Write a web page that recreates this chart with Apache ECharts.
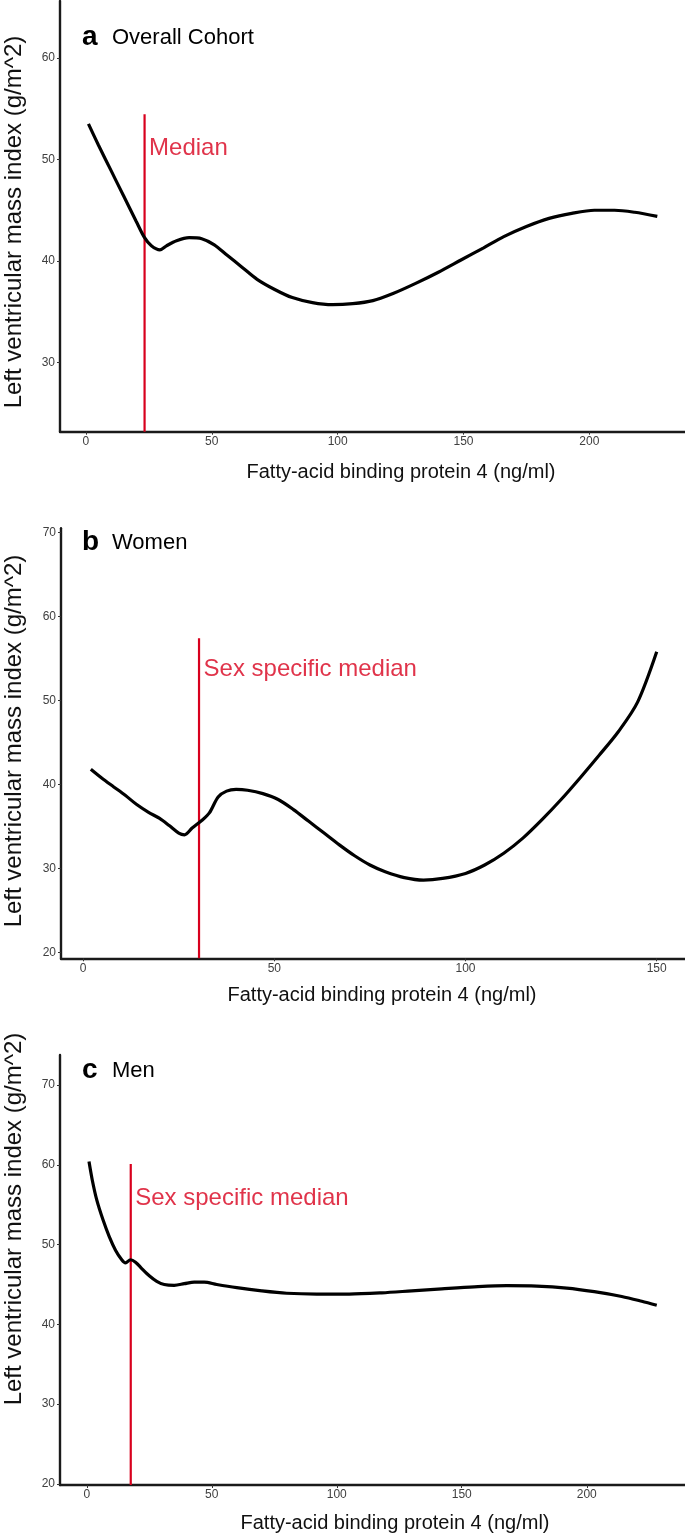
<!DOCTYPE html>
<html>
<head>
<meta charset="utf-8">
<script src="https://cdn.jsdelivr.net/npm/echarts@6.0.0/dist/echarts.min.js"></script>
<style>
  html, body { margin: 0; padding: 0; background: #fff; }
  #chart { width: 685px; height: 1538px; }
</style>
</head>
<body>
<div id="chart"></div>
<script>
// values (x = FABP4 ng/ml, y = LVMI g/m^2)
var overallX = [1, 5, 10, 15, 20, 23.3, 26, 29.4, 32, 36, 41, 46, 51, 56, 62, 68, 75, 82, 90, 98, 106, 114, 122, 131, 140, 149, 158, 166, 175, 184, 193, 202, 210, 218, 227];
var overallY = [53.5, 51.4, 48.9, 46.4, 43.9, 42.3, 41.5, 41.1, 41.5, 42.0, 42.3, 42.2, 41.6, 40.6, 39.4, 38.2, 37.2, 36.4, 35.9, 35.7, 35.8, 36.1, 36.8, 37.8, 38.9, 40.1, 41.3, 42.4, 43.4, 44.2, 44.7, 45.0, 45.0, 44.8, 44.4];

var womenX = [2, 5, 8, 11, 14, 17, 20, 22.5, 25, 26.5, 28.5, 31, 33, 35.3, 37.5, 40, 43, 47, 51, 55, 59, 63, 67, 71, 75, 79, 84, 89, 94, 100, 105, 110, 115, 120, 125, 130, 135, 140, 145, 150];
var womenY = [41.8, 40.7, 39.7, 38.7, 37.6, 36.7, 35.95, 35.1, 34.2, 34.0, 34.8, 35.7, 36.6, 38.5, 39.2, 39.4, 39.3, 38.9, 38.2, 37.0, 35.6, 34.2, 32.8, 31.5, 30.4, 29.6, 28.9, 28.6, 28.8, 29.4, 30.4, 31.8, 33.6, 35.8, 38.2, 40.8, 43.5, 46.3, 49.8, 55.8];

var menX = [0.9, 2.2, 4, 6.5, 9, 11.5, 14, 15.5, 17.5, 19.5, 22, 25, 28, 31, 35, 39, 43, 47, 52, 60, 70, 80, 92, 105, 118, 130, 142, 155, 168, 180, 192, 203, 214, 222, 228];
var menY = [60.4, 58.1, 55.6, 53.1, 51.0, 49.3, 48.1, 47.7, 48.1, 47.8, 47.0, 46.1, 45.4, 45.0, 44.9, 45.1, 45.3, 45.3, 45.0, 44.6, 44.2, 43.9, 43.8, 43.8, 43.95, 44.2, 44.45, 44.7, 44.85, 44.8, 44.55, 44.1, 43.5, 42.9, 42.4];

// median marker: x position and top of the red line
var medianX = [23.3, 30.3, 17.6];
var medianTop = [54.45, 57.4, 60.1];
var medianText = ['Median', 'Sex specific median', 'Sex specific median'];

// tick labels
var xTicksAC = [0, 50, 100, 150, 200];
var xTicksB = [0, 50, 100, 150];
var yTicksA = [30, 40, 50, 60];
var yTicksBC = [20, 30, 40, 50, 60, 70];

var panelLetter = ['a', 'b', 'c'];
var panelTitle = ['Overall Cohort', 'Women', 'Men'];

var sans = '"Liberation Sans", Arial, sans-serif';
var red = '#d8001d';

// panel layout (pixels) and axis ranges
var panels = [
  { top: 1, height: 430.7, left: 60, xMin: -10.3, xMax: 238, yMin: 23.2, yMax: 65.6, xt: xTicksAC, yt: yTicksA, x: overallX, y: overallY, lblOff: 34 },
  { top: 528.3, height: 430, left: 61, xMin: -5.8, xMax: 157.4, yMin: 19.29, yMax: 70.5, xt: xTicksB, yt: yTicksBC, x: womenX, y: womenY, lblOff: 31 },
  { top: 1055, height: 430, left: 60, xMin: -10.7, xMax: 239.3, yMin: 19.87, yMax: 73.76, xt: xTicksAC, yt: yTicksBC, x: menX, y: menY, lblOff: 34.5 }
];

function zip(xs, ys) {
  var out = [];
  for (var i = 0; i < xs.length; i++) out.push([xs[i], ys[i]]);
  return out;
}

var grid = [], xAxis = [], yAxis = [], series = [];
panels.forEach(function (p, i) {
  grid.push({ left: p.left, right: 0, top: p.top, height: p.height, outerBoundsMode: 'none' });
  xAxis.push({
    type: 'value', gridIndex: i, min: p.xMin, max: p.xMax,
    axisLine: { show: true, onZero: false, lineStyle: { color: '#1a1a1a', width: 2.4 } },
    axisTick: { show: true, length: 3, customValues: p.xt, lineStyle: { color: '#333' } },
    axisLabel: { customValues: p.xt, margin: 4, color: '#404040', fontFamily: sans, fontSize: 12 },
    splitLine: { show: false }
  });
  yAxis.push({
    type: 'value', gridIndex: i, min: p.yMin, max: p.yMax,
    axisLine: { show: true, onZero: false, lineStyle: { color: '#1a1a1a', width: 2.4 } },
    axisTick: { show: true, length: 3, customValues: p.yt, lineStyle: { color: '#333' } },
    axisLabel: { customValues: p.yt, margin: 5, color: '#404040', fontFamily: sans, fontSize: 12 },
    splitLine: { show: false }
  });
  // red median line
  series.push({
    type: 'line', xAxisIndex: i, yAxisIndex: i, showSymbol: false, silent: true,
    lineStyle: { color: red, width: 2.2 },
    data: [[medianX[i], p.yMin], [medianX[i], medianTop[i]]],
    z: 2
  });
  // median label anchored at top of the line
  series.push({
    type: 'scatter', xAxisIndex: i, yAxisIndex: i, silent: true,
    symbolSize: 1, itemStyle: { color: 'rgba(0,0,0,0)' },
    data: [[medianX[i], medianTop[i]]],
    label: {
      show: true, position: 'right', distance: 4, offset: [0, p.lblOff],
      formatter: medianText[i], color: red, fontFamily: sans, fontSize: 24
    },
    z: 4
  });
  // spline curve
  series.push({
    type: 'line', xAxisIndex: i, yAxisIndex: i, showSymbol: false, silent: true,
    smooth: 0.3,
    lineStyle: { color: '#000', width: 3.2 },
    data: zip(p.x, p.y),
    z: 3
  });
});

// text elements: panel titles and axis titles
var graphic = [];
var letterY = [37, 542, 1070];
var xTitlePos = [[401, 472], [382, 995], [395, 1523]];
var yTitlePos = [[14, 222], [14, 741], [14, 1219]];
for (var k = 0; k < 3; k++) {
  graphic.push({ type: 'text', x: 82, y: letterY[k], style: { text: panelLetter[k], fontFamily: sans, fontWeight: 'bold', fontSize: 28, fill: '#000', verticalAlign: 'middle' } });
  graphic.push({ type: 'text', x: 112, y: letterY[k] + 1, style: { text: panelTitle[k], fontFamily: sans, fontSize: 22, fill: '#000', verticalAlign: 'middle' } });
  graphic.push({ type: 'text', x: xTitlePos[k][0], y: xTitlePos[k][1], style: { text: 'Fatty-acid binding protein 4 (ng/ml)', fontFamily: sans, fontSize: 20, fill: '#111', align: 'center', verticalAlign: 'middle' } });
  graphic.push({ type: 'text', x: yTitlePos[k][0], y: yTitlePos[k][1], rotation: Math.PI / 2, style: { text: 'Left ventricular mass index (g/m^2)', fontFamily: sans, fontSize: 24, fill: '#111', align: 'center', verticalAlign: 'middle' } });
}

var myChart = echarts.init(document.getElementById('chart'), null, { renderer: 'canvas' });
myChart.setOption({
  backgroundColor: '#fff',
  animation: false,
  grid: grid,
  xAxis: xAxis,
  yAxis: yAxis,
  series: series,
  graphic: graphic
});
</script>
</body>
</html>
